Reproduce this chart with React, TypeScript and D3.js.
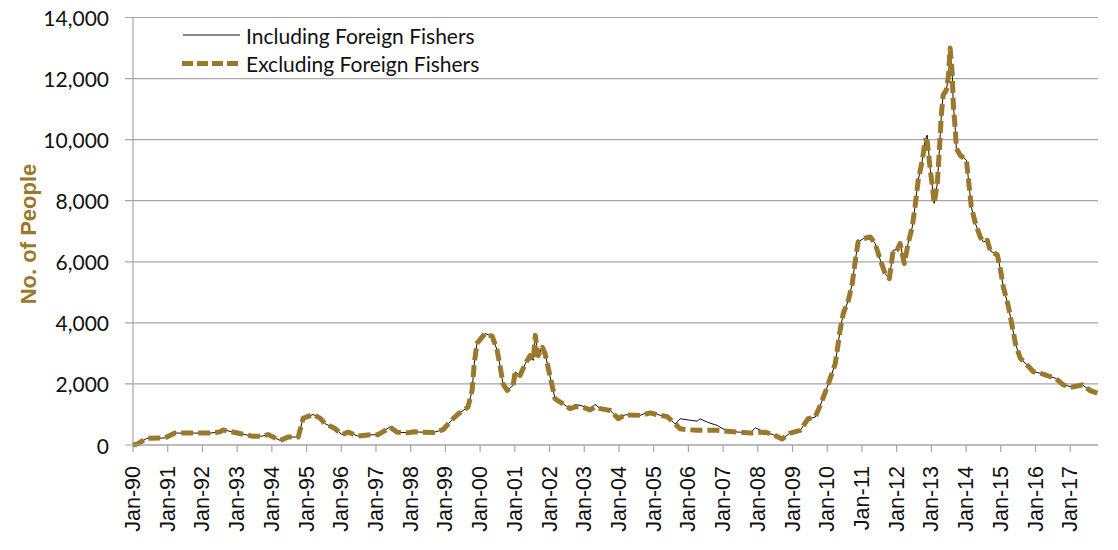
import React from "react";
import * as d3 from "d3";

// Decimal-year positions of the read points
const years: number[] = [
  1990.0, 1990.12, 1990.4, 1990.92, 1991.21, 1992.22, 1992.51, 1992.59, 1992.94, 1993.43,
  1993.72, 1993.89, 1994.24, 1994.47, 1994.76, 1994.9, 1995.19, 1995.39, 1995.53, 1995.82,
  1996.02, 1996.2, 1996.48, 1996.77, 1997.06, 1997.41, 1997.61, 1997.93, 1998.07, 1998.65,
  1998.93, 1999.22, 1999.37, 1999.65, 1999.77, 1999.83, 1999.91, 2000.14, 2000.35, 2000.49,
  2000.58, 2000.66, 2000.78, 2000.95, 2001.01, 2001.15, 2001.3, 2001.44, 2001.53, 2001.59,
  2001.67, 2001.79, 2001.87, 2002.02, 2002.16, 2002.39, 2002.59, 2002.74, 2002.94, 2003.17,
  2003.31, 2003.46, 2003.75, 2003.98, 2004.18, 2004.61, 2004.9, 2005.19, 2005.39, 2005.62,
  2005.76, 2006.0, 2006.25, 2006.34, 2006.54, 2006.83, 2007.12, 2007.49, 2007.78, 2007.93,
  2008.21, 2008.44, 2008.7, 2008.93, 2009.22, 2009.45, 2009.65, 2009.8, 2010.0, 2010.23,
  2010.37, 2010.46, 2010.61, 2010.72, 2010.81, 2010.89, 2011.04, 2011.24, 2011.38, 2011.53,
  2011.67, 2011.79, 2011.9, 2012.02, 2012.1, 2012.22, 2012.33, 2012.45, 2012.54, 2012.62,
  2012.74, 2012.82, 2012.88, 2012.97, 2013.03, 2013.08, 2013.17, 2013.23, 2013.29, 2013.34,
  2013.43, 2013.49, 2013.54, 2013.6, 2013.63, 2013.69, 2013.72, 2013.83, 2014.01, 2014.06,
  2014.15, 2014.27, 2014.41, 2014.5, 2014.61, 2014.7, 2014.9, 2014.99, 2015.07, 2015.22,
  2015.33, 2015.42, 2015.56, 2015.76, 2015.94, 2016.14, 2016.34, 2016.57, 2016.8, 2017.06,
  2017.35, 2017.58, 2017.78,
];

const including: number[] = [
  0, 30, 220, 230, 390, 390, 430, 500, 410, 290,
  290, 340, 150, 260, 260, 870, 1000, 880, 700, 540,
  340, 420, 290, 330, 340, 600, 420, 400, 430, 410,
  500, 860, 1020, 1240, 1790, 2660, 3330, 3650, 3560, 3100,
  2550, 2000, 1790, 1950, 2390, 2280, 2660, 2930, 2770, 3590,
  2930, 3200, 3000, 2220, 1510, 1350, 1190, 1330, 1280, 1150,
  1330, 1190, 1130, 860, 990, 970, 1100, 970, 930, 690,
  860, 820, 780, 860, 750, 640, 450, 420, 390, 560,
  420, 340, 200, 390, 480, 860, 910, 1300, 1900, 2660,
  3750, 4300, 4740, 5290, 6050, 6650, 6760, 6810, 6600, 6050,
  5610, 5450, 6380, 6400, 6600, 5940, 6600, 7140, 7910, 8670,
  9330, 9980, 10150, 9000, 8450, 7910, 8560, 9650, 10860, 11460,
  11620, 12060, 12900, 12170, 11190, 10310, 9710, 9490, 9330, 8780,
  7800, 7250, 6810, 6650, 6700, 6350, 6230, 5740, 5190, 4530,
  3880, 3330, 2840, 2620, 2400, 2350, 2270, 2190, 1970, 1900,
  1970, 1780, 1700,
];

const excluding: number[] = [
  0, 30, 220, 230, 390, 390, 430, 490, 410, 290,
  290, 340, 150, 260, 260, 870, 1000, 880, 700, 540,
  340, 420, 290, 330, 340, 580, 420, 400, 430, 410,
  500, 860, 1020, 1240, 1790, 2660, 3330, 3650, 3560, 3100,
  2550, 2000, 1790, 1950, 2390, 2280, 2660, 2930, 2770, 3590,
  2930, 3200, 3000, 2220, 1510, 1350, 1190, 1250, 1250, 1150,
  1250, 1190, 1130, 860, 990, 970, 1050, 970, 930, 690,
  530, 500, 480, 480, 480, 480, 450, 420, 390, 400,
  420, 340, 200, 390, 480, 860, 910, 1300, 1900, 2660,
  3750, 4300, 4740, 5290, 6050, 6650, 6760, 6810, 6600, 6050,
  5610, 5450, 6380, 6400, 6600, 5940, 6600, 7140, 7910, 8670,
  9330, 9980, 9950, 9000, 8450, 7910, 8560, 9650, 10860, 11460,
  11620, 12060, 13000, 12170, 11190, 10310, 9710, 9490, 9330, 8780,
  7800, 7250, 6810, 6650, 6700, 6350, 6230, 5740, 5190, 4530,
  3880, 3330, 2840, 2620, 2400, 2350, 2270, 2190, 1970, 1900,
  1970, 1780, 1700,
];

const tickYears: number[] = d3.range(1990, 2018);
const yTicks: number[] = [0, 2000, 4000, 6000, 8000, 10000, 12000, 14000];
const seriesNames: string[] = ["Including Foreign Fishers", "Excluding Foreign Fishers"];
const yTitle = "No. of People";

const W = 1118;
const H = 550;
const left = 133;
const right = 1098;
const top = 17.5;
const bottom = 445;
const brown = "#9C782B";
const grid = "#A6A6A6";
const ink = "#111";

export default function App() {
  const x = d3.scaleLinear().domain([1990, 2017.8]).range([left, right]);
  const y = d3.scaleLinear().domain([0, 14000]).range([bottom, top]);
  const fmt = d3.format(",");

  const lineIncl = d3
    .line<number>()
    .x((_, i) => x(years[i]))
    .y((d) => y(d))(including) as string;
  const lineExcl = d3
    .line<number>()
    .x((_, i) => x(years[i]))
    .y((d) => y(d))(excluding) as string;

  return (
    <svg
      width={W}
      height={H}
      style={{ position: "absolute", left: 0, top: 0, background: "#fff" }}
    >
      {/* gridlines */}
      {yTicks.map((t) => (
        <line
          key={"g" + t}
          x1={left - 8}
          x2={right}
          y1={y(t)}
          y2={y(t)}
          stroke={grid}
          strokeWidth={1.2}
        />
      ))}
      {/* y axis */}
      <line x1={left} x2={left} y1={top} y2={bottom} stroke={grid} strokeWidth={1.2} />
      {/* x ticks */}
      {tickYears.map((yr) => (
        <line
          key={"t" + yr}
          x1={x(yr)}
          x2={x(yr)}
          y1={bottom}
          y2={bottom + 7}
          stroke={grid}
          strokeWidth={1.2}
        />
      ))}
      {/* y labels */}
      {yTicks.map((t) => (
        <text
          key={"yl" + t}
          x={109}
          y={y(t)}
          textAnchor="end"
          dominantBaseline="central"
          fontFamily="Lato, 'Open Sans', sans-serif"
          fontSize={21}
          fill={ink}
        >
          {fmt(t)}
        </text>
      ))}
      {/* x labels */}
      {tickYears.map((yr) => (
        <text
          key={"xl" + yr}
          transform={`translate(${x(yr)},${bottom + 21}) rotate(-90)`}
          textAnchor="end"
          dominantBaseline="central"
          fontFamily="'Liberation Sans', Arial, sans-serif"
          fontSize={21.5}
          fill={ink}
        >
          {"Jan-" + String(yr).slice(2)}
        </text>
      ))}
      {/* y title */}
      <text
        transform={`translate(28,${(163 + 305) / 2}) rotate(-90)`}
        textAnchor="middle"
        dominantBaseline="central"
        fontFamily="'Liberation Sans', Arial, sans-serif"
        fontWeight="bold"
        fontSize={22}
        fill={brown}
      >
        {yTitle}
      </text>
      {/* lines */}
      <path d={lineIncl} fill="none" stroke={ink} strokeWidth={1} />
      <path
        d={lineExcl}
        fill="none"
        stroke={brown}
        strokeWidth={5}
        strokeDasharray="12,5"
        strokeLinejoin="round"
      />
      {/* x axis line */}
      <line x1={left} x2={right} y1={bottom} y2={bottom} stroke={grid} strokeWidth={1.2} />
      {/* legend */}
      <line x1={183} x2={240} y1={35} y2={35} stroke={ink} strokeWidth={1} />
      <text
        x={246}
        y={35}
        dominantBaseline="central"
        fontFamily="Lato, 'Open Sans', sans-serif"
        fontSize={21}
        fill={ink}
      >
        {seriesNames[0]}
      </text>
      <line
        x1={182}
        x2={242}
        y1={63.5}
        y2={63.5}
        stroke={brown}
        strokeWidth={5}
        strokeDasharray="11,4"
      />
      <text
        x={246}
        y={63.5}
        dominantBaseline="central"
        fontFamily="Lato, 'Open Sans', sans-serif"
        fontSize={21}
        fill={ink}
      >
        {seriesNames[1]}
      </text>
    </svg>
  );
}
